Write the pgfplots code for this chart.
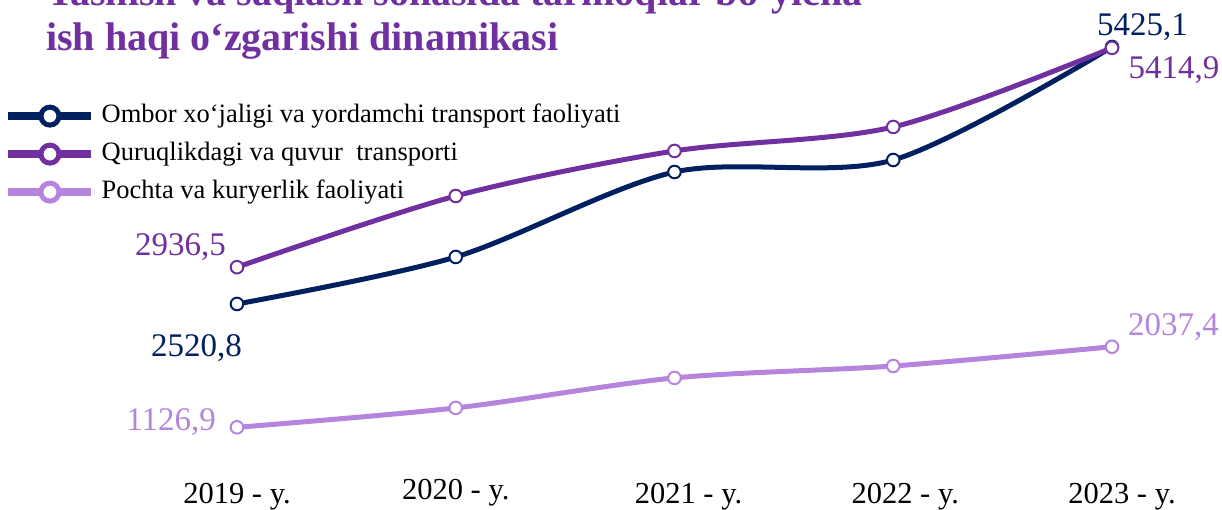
\documentclass[border=0pt]{standalone}
\usepackage{pgfplots}
\pgfplotsset{compat=1.18}
\usepackage{fontspec}
\setmainfont{Liberation Serif}
\definecolor{cnavy}{HTML}{002060}
\definecolor{cpurple}{HTML}{7030A0}
\definecolor{clav}{HTML}{B585DE}
\begin{document}
\begin{tikzpicture}[x=1bp,y=1bp]
\useasboundingbox (-237,-80.3) rectangle (985,429.7);
% title (first line is cut by the top edge, as in the reference)
\node[anchor=base west,inner sep=0pt,font=\fontsize{40bp}{44bp}\selectfont\bfseries,text=cpurple] at (-190,423.7) {Tashish va saqlash sohasida tarmoqlar bo‘yicha};
\node[anchor=base west,inner sep=0pt,font=\fontsize{40bp}{44bp}\selectfont\bfseries,text=cpurple] at (-191,378.7) {ish haqi o‘zgarishi dinamikasi};
\begin{axis}[
  scale only axis,
  width=875bp, height=389.35bp,
  xmin=2019, xmax=2023, ymin=1100, ymax=5500,
  axis line style={draw=none},
  ytick=\empty,
  xtick={2019,2020,2021,2022,2023},
  xticklabels={{2019 - y.},{\raisebox{4bp}{2020 - y.}},{\hspace*{28bp}2021 - y.},{\hspace*{24bp}2022 - y.},{\hspace*{20bp}2023 - y.}},
  major tick length=0pt,
  xticklabel style={font=\fontsize{30.5bp}{34bp}\selectfont, anchor=base, yshift=-73.5bp, inner sep=0pt},
  clip=false,
  every axis plot/.append style={line width=5bp, smooth, mark=*, mark size=6.3bp, mark options={fill=white, line width=2bp}},
  legend image code/.code={
    \draw[#1, line width=7.5bp] (0bp,0bp) -- (83bp,0bp);
    \draw[#1, line width=5bp, fill=white] (42bp,0bp) circle (9bp);
  },
  legend cell align=left,
  legend style={at={(axis description cs:-0.2663,0.8393)}, anchor=north west, draw=none, fill=none,
    font=\fontsize{26.5bp}{30bp}\selectfont, inner sep=0pt, row sep=12bp, column sep=7bp,
    nodes={inner sep=0pt, text height=19bp, text depth=7bp}},
]
\addplot[color=cnavy] coordinates {(2019,2520.8) (2020,3052) (2021,4012) (2022,4148) (2023,5425.1)};
\addlegendentry{Ombor xo‘jaligi va yordamchi transport faoliyati}
\addplot[color=cpurple] coordinates {(2019,2936.5) (2020,3741) (2021,4250) (2022,4521) (2023,5414.9)};
\addlegendentry{Quruqlikdagi va quvur\ \ transporti}
\addplot[color=clav] coordinates {(2019,1126.9) (2020,1346) (2021,1685) (2022,1820) (2023,2037.4)};
\addlegendentry{Pochta va kuryerlik faoliyati}
% data labels
\begin{scope}[every node/.style={inner sep=0pt, font=\fontsize{33bp}{36bp}\selectfont}]
\node[text=cpurple, anchor=east] at (axis cs:2019,2936.5) [xshift=-11bp, yshift=20bp] {2936,5};
\node[text=cnavy] at (axis cs:2019,2520.8) [xshift=-40.5bp, yshift=-44bp] {2520,8};
\node[text=clav, anchor=east] at (axis cs:2019,1126.9) [xshift=-21bp, yshift=5bp] {1126,9};
\node[text=cnavy] at (axis cs:2023,5425.1) [xshift=30.5bp, yshift=20bp] {5425,1};
\node[text=cpurple] at (axis cs:2023,5414.9) [xshift=62bp, yshift=-22bp] {5414,9};
\node[text=clav] at (axis cs:2023,2037.4) [xshift=61.5bp, yshift=20bp] {2037,4};
\end{scope}
\end{axis}
\end{tikzpicture}
\end{document}
